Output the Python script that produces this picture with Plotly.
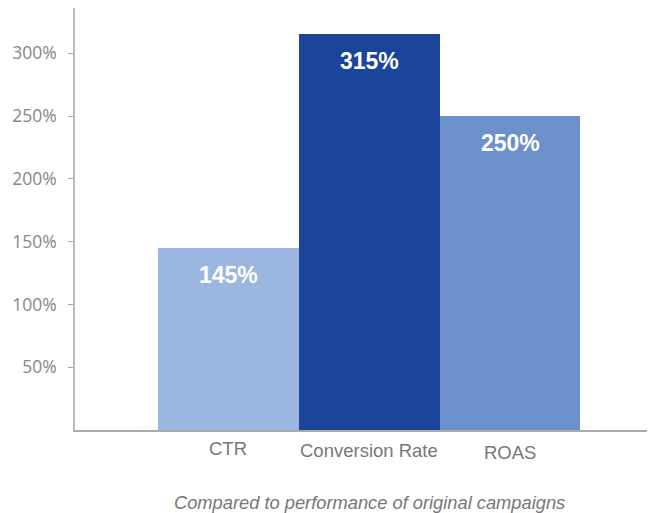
import plotly.graph_objects as go

categories = ["CTR", "Conversion Rate", "ROAS"]
values = [145, 315, 250]
value_labels = ["145%", "315%", "250%"]
bar_colors = ["#9BB7DF", "#1A459B", "#6C90CA"]
y_ticks = [50, 100, 150, 200, 250, 300]
y_tick_labels = ["50%", "100%", "150%", "200%", "250%", "300%"]
caption = "Compared to performance of original campaigns"

fig = go.Figure()
fig.add_trace(go.Bar(
    x=categories, y=values, marker=dict(color=bar_colors, line=dict(width=0)),
    width=1.0, hoverinfo="skip",
))

annotations = []
for c, v, t in zip(categories, values, value_labels):
    annotations.append(dict(x=c, y=v, xref="x", yref="y", text=t, showarrow=False,
                            yanchor="middle", yshift=-27,
                            font=dict(family="Liberation Sans, Arial", size=23, color="white", weight="bold")))
label_shifts = [-18, -20, -22]
for c, s in zip(categories, label_shifts):
    annotations.append(dict(x=c, y=0, xref="x", yref="paper", text=c, showarrow=False,
                            yanchor="middle", yshift=s,
                            font=dict(family="Liberation Sans, Arial", size=18.5, color="#777777")))
annotations.append(dict(x=categories[1], y=0, xref="x", yref="paper", text="<i>" + caption + "</i>",
                        showarrow=False, yanchor="middle", yshift=-72,
                        font=dict(family="Liberation Sans, Arial", size=18.3, color="#777777")))

fig.update_layout(
    width=647, height=505,
    margin=dict(l=67, r=0, t=0, b=83),
    paper_bgcolor="white", plot_bgcolor="white",
    showlegend=False, bargap=0,
    annotations=annotations,
    xaxis=dict(range=[-1.09, 3.03], showticklabels=False, ticks="", showgrid=False,
               showline=True, linecolor="#AAAAAA", linewidth=1.5, zeroline=False, fixedrange=True),
    yaxis=dict(range=[0, 336], tickvals=y_ticks, ticktext=y_tick_labels, ticks="outside",
               ticklen=5, tickcolor="#AAAAAA", tickwidth=1, showgrid=False, zeroline=False,
               showline=True, linecolor="#BBBBBB", linewidth=1.5, ticklabelstandoff=8,
               tickfont=dict(family="Open Sans", size=17.5, color="#888888")),
)

fig.write_html("out.html")
